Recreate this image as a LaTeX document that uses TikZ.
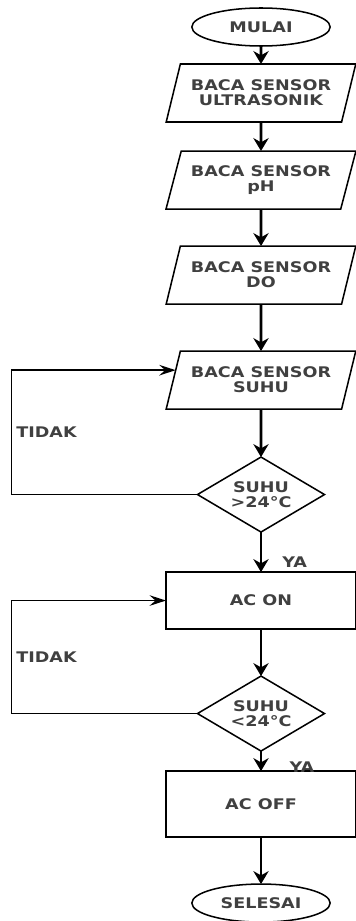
\documentclass[tikz,border=0pt]{standalone}
\usepackage{fontspec}
\setmainfont{DejaVu Sans}[FakeStretch=1.2]
\usetikzlibrary{shapes.geometric, arrows.meta, positioning, calc}

\begin{document}
\begin{tikzpicture}[
        node distance=1cm,
        >={Stealth[length=11pt,width=13pt]},
        font=\fontsize{12.5}{12.8}\selectfont\bfseries,
        % bentuk blok
        startstop/.style={ellipse, draw=black, line width=1.3pt, outer sep=0pt, minimum width=4.15cm, minimum height=1.14cm, text=black!75},
        io/.style={trapezium, trapezium left angle=70, trapezium right angle=110, trapezium stretches=true, draw=black, line width=1.3pt, outer sep=0pt, minimum width=5.7cm, minimum height=1.74cm, inner xsep=0pt, align=center, text=black!75},
        process/.style={rectangle, draw=black, line width=1.3pt, outer sep=0pt, minimum width=5.7cm, minimum height=1.71cm, text=black!75},
        decision/.style={diamond, aspect=1.7, draw=black, line width=1.3pt, outer sep=0pt, minimum width=3.81cm, minimum height=2.25cm, inner sep=0pt, align=center, text=black!75},
        arrow/.style={line width=2.4pt, ->},
        loopback/.style={line width=1.6pt, -{Stealth[length=14pt,width=9pt,inset=5pt]}},
        ket/.style={text=black!75}
    ]
    \useasboundingbox (0,0) rectangle (10.65,-27.63);

    % --- 1. BLOK ---
    \node[startstop] (mulai) at (7.83,-0.81) {MULAI};
    \node[io, below=0.54cm of mulai] (ultra) {BACA SENSOR\\ULTRASONIK};
    \node[io, below=0.87cm of ultra] (ph) {BACA SENSOR\\pH};
    \node[io, below=1.11cm of ph] (oksigen) {BACA SENSOR\\DO};
    \node[io, below=1.41cm of oksigen] (suhu) {BACA SENSOR\\SUHU};
    \node[decision, below=1.44cm of suhu] (cek1) {SUHU\\>24°C};
    \node[process, below=1.2cm of cek1] (acon) {AC ON};
    \node[decision, below=1.41cm of acon] (cek2) {SUHU\\<24°C};
    \node[process, below=0.6cm of cek2, minimum height=1.98cm] (acoff) {AC OFF};
    \node[startstop, below=1.41cm of acoff] (selesai) {SELESAI};

    \coordinate (masuk) at ($(suhu.bottom left corner)!0.67!(suhu.top left corner)$);

    % --- 2. PANAH ---
    \draw[arrow] (mulai) -- (ultra);
    \draw[arrow] (ultra) -- (ph);
    \draw[arrow] (ph) -- (oksigen);
    \draw[arrow] (oksigen) -- (suhu);
    \draw[arrow] (suhu) -- (cek1);

    % cek suhu pertama
    \draw[arrow] (cek1) -- node[ket, right, pos=0.75, xshift=0.48cm] {YA} (acon);
    \draw[loopback] (cek1.west) -- ++(-5.58,0) |- node[ket, right, pos=0.25] {TIDAK} (masuk);

    \draw[arrow] (acon) -- (cek2);

    % cek suhu kedua
    \draw[arrow] (cek2) -- node[ket, right, pos=0.8, xshift=0.7cm] {YA} (acoff);
    \draw[loopback] (cek2.west) -- ++(-5.58,0) |- node[ket, right, pos=0.25] {TIDAK} (acon.west);

    \draw[arrow] (acoff) -- (selesai);

\end{tikzpicture}
\end{document}
